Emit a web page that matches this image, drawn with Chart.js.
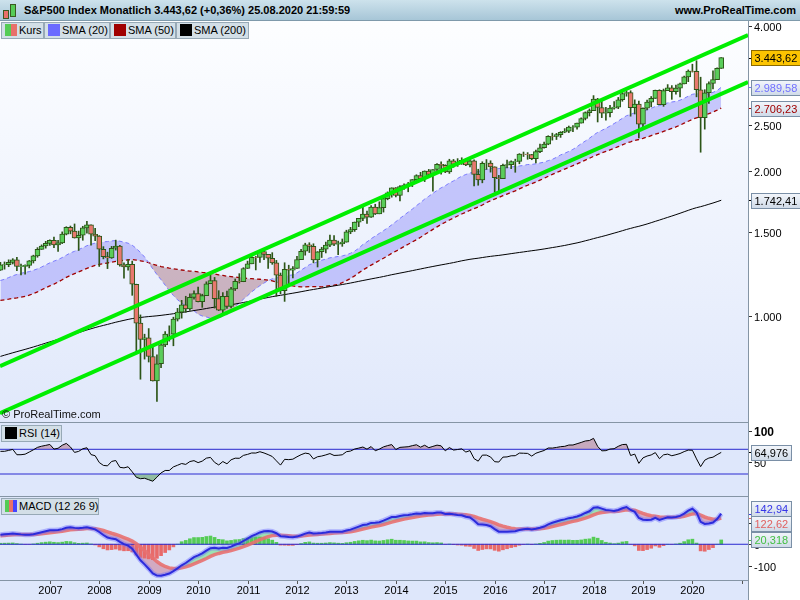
<!DOCTYPE html>
<html>
<head>
<meta charset="utf-8">
<title>S&amp;P500 Index Monatlich</title>
<script src="https://cdn.jsdelivr.net/npm/chart.js@4.4.1/dist/chart.umd.min.js"></script>
<style>
  body { margin: 0; background: #fff; font: 11px "Liberation Sans", Arial, sans-serif; color: #000; }
  #wrap { position: relative; width: 800px; height: 600px; overflow: hidden; }
  #header { position: absolute; left: 0; top: 0; width: 800px; height: 20px; background: linear-gradient(#cde2ec, #a7c6d7); border-bottom: 1px solid #7f9aab; }
  #title { position: absolute; left: 24px; top: 0; line-height: 21px; font-weight: bold; }
  #site { position: absolute; right: 4px; top: 0; line-height: 21px; font-weight: bold; }
  .cdl { position: absolute; width: 4px; border: 1px solid #3a5a20; }
  canvas { position: absolute; left: 0; }
  .box { position: absolute; box-sizing: border-box; height: 17px; line-height: 15px; background: #d3dfe7; border: 1px solid #97a9b6; padding-left: 17px; white-space: nowrap; z-index: 2; }
  .box i { position: absolute; left: 3px; top: 1px; width: 12px; height: 12px; }
  .hline { position: absolute; left: 0; width: 748px; height: 1px; background: #8595a5; z-index: 3; }
  #vline { position: absolute; left: 748px; top: 21px; width: 1px; height: 579px; background: #8595a5; z-index: 3; }
</style>
</head>
<body>
<div id="wrap">
  <div id="header">
    <div class="cdl" style="left:3px;top:10px;height:7px;background:#e8706a"></div>
    <div class="cdl" style="left:10px;top:4px;height:11px;background:#55cc55"></div>
    <div id="title">S&amp;P500 Index Monatlich 3.443,62 (+0,36%) 25.08.2020 21:59:59</div>
    <div id="site">www.ProRealTime.com</div>
  </div>
  <canvas id="main" width="800" height="401" style="top:21px"></canvas>
  <canvas id="rsi" width="800" height="73" style="top:423px"></canvas>
  <canvas id="macd" width="800" height="103" style="top:497px"></canvas>

  <div class="box" style="left:1px;top:22px;width:43px"><i style="background:linear-gradient(to right,#55cc55 50%,#e8706a 50%)"></i>Kurs</div>
  <div class="box" style="left:44px;top:22px;width:66px"><i style="background:#6b6bff"></i>SMA (20)</div>
  <div class="box" style="left:110px;top:22px;width:66px"><i style="background:#a00000"></i>SMA (50)</div>
  <div class="box" style="left:176px;top:22px;width:73px"><i style="background:#000"></i>SMA (200)</div>
  <div class="box" style="left:1px;top:425px;width:61px"><i style="background:#000"></i>RSI (14)</div>
  <div class="box" style="left:1px;top:498px;width:98px"><i style="background:linear-gradient(to right,#55cc55 33%,#e8706a 33% 66%,#4444ff 66%)"></i>MACD (12 26 9)</div>

  <div class="hline" style="top:422px"></div>
  <div class="hline" style="top:496px"></div>
  <div class="hline" style="top:580px"></div>
  <div id="vline"></div>
</div>

<script>
// monthly data, first candle = January 2006
const startYear = 2006;

// month-end closes 1989-2005, only used to warm up the indicators
const history = [
  297.47, 288.86, 294.87, 309.64, 320.52, 317.98, 346.08, 351.45, 349.15, 340.36, 345.99, 353.40,
  329.08, 331.89, 339.94, 330.80, 361.23, 358.02, 356.15, 322.56, 306.05, 304.00, 322.22, 330.22,
  343.93, 367.07, 375.22, 375.35, 389.83, 371.16, 387.81, 395.43, 387.86, 392.46, 375.22, 417.09,
  408.79, 412.70, 403.69, 414.95, 415.35, 408.14, 424.21, 414.03, 417.80, 418.68, 431.35, 435.71,
  438.78, 443.38, 451.67, 440.19, 450.19, 450.53, 448.13, 463.56, 458.93, 467.83, 461.79, 466.45,
  481.61, 467.14, 445.77, 450.91, 456.50, 444.27, 458.26, 475.49, 462.69, 472.35, 453.69, 459.27,
  470.42, 487.39, 500.71, 514.71, 533.40, 544.75, 562.06, 561.88, 584.41, 581.50, 605.37, 615.93,
  636.02, 640.43, 645.50, 654.17, 669.12, 670.63, 639.95, 651.99, 687.31, 705.27, 757.02, 740.74,
  786.16, 790.82, 757.12, 801.34, 848.28, 885.14, 954.29, 899.47, 947.28, 914.62, 955.40, 970.43,
  980.28, 1049.34, 1101.75, 1111.75, 1090.82, 1133.84, 1120.67, 957.28, 1017.01, 1098.67, 1163.63, 1229.23,
  1279.64, 1238.33, 1286.37, 1335.18, 1301.84, 1372.71, 1328.72, 1320.41, 1282.71, 1362.93, 1388.91, 1469.25,
  1394.46, 1366.42, 1498.58, 1452.43, 1420.60, 1454.60, 1430.83, 1517.68, 1436.51, 1429.40, 1314.95, 1320.28,
  1366.01, 1239.94, 1160.33, 1249.46, 1255.82, 1224.42, 1211.23, 1133.58, 1040.94, 1059.78, 1139.45, 1148.08,
  1130.20, 1106.73, 1147.39, 1076.92, 1067.14, 989.82, 911.62, 916.07, 815.28, 885.76, 936.31, 879.82,
  855.70, 841.15, 848.18, 916.92, 963.59, 974.50, 990.31, 1008.01, 995.97, 1050.71, 1058.20, 1111.92,
  1131.13, 1144.94, 1126.21, 1107.30, 1120.68, 1140.84, 1101.72, 1104.24, 1114.58, 1130.20, 1173.82, 1211.92,
  1181.27, 1203.60, 1180.59, 1156.85, 1191.50, 1191.33, 1234.18, 1220.33, 1228.81, 1207.01, 1249.48, 1248.29
];

const close = [
  1280.08, 1280.66, 1294.87, 1310.61, 1270.09, 1270.20, 1276.66, 1303.82, 1335.85, 1377.94, 1400.63, 1418.30,
  1438.24, 1406.82, 1420.86, 1482.37, 1530.62, 1503.35, 1455.27, 1473.99, 1526.75, 1549.38, 1481.14, 1468.36,
  1378.55, 1330.63, 1322.70, 1385.59, 1400.38, 1280.00, 1267.38, 1282.83, 1166.36, 968.75, 896.24, 903.25,
  825.88, 735.09, 797.87, 872.81, 919.14, 919.32, 987.48, 1020.62, 1057.08, 1036.19, 1095.63, 1115.10,
  1073.87, 1104.49, 1169.43, 1186.69, 1089.41, 1030.71, 1101.60, 1049.33, 1141.20, 1183.26, 1180.55, 1257.64,
  1286.12, 1327.22, 1325.83, 1363.61, 1345.20, 1320.64, 1292.28, 1218.89, 1131.42, 1253.30, 1246.96, 1257.60,
  1312.41, 1365.68, 1408.47, 1397.91, 1310.33, 1362.16, 1379.32, 1406.58, 1440.67, 1412.16, 1416.18, 1426.19,
  1498.11, 1514.68, 1569.19, 1597.57, 1630.74, 1606.28, 1685.73, 1632.97, 1681.55, 1756.54, 1805.81, 1848.36,
  1782.59, 1859.45, 1872.34, 1883.95, 1923.57, 1960.23, 1930.67, 2003.37, 1972.29, 2018.05, 2067.56, 2058.90,
  1994.99, 2104.50, 2067.89, 2085.51, 2107.39, 2063.11, 2103.84, 1972.18, 1920.03, 2079.36, 2080.41, 2043.94,
  1940.24, 1932.23, 2059.74, 2065.30, 2096.95, 2098.86, 2173.60, 2170.95, 2168.27, 2126.15, 2198.81, 2238.83,
  2278.87, 2363.64, 2362.72, 2384.20, 2411.80, 2423.41, 2470.30, 2471.65, 2519.36, 2575.26, 2647.58, 2673.61,
  2823.81, 2713.83, 2640.87, 2648.05, 2705.27, 2718.37, 2816.29, 2901.52, 2913.98, 2711.74, 2760.17, 2506.85,
  2704.10, 2784.49, 2834.40, 2945.83, 2752.06, 2941.76, 2980.38, 2926.46, 2976.74, 3037.56, 3140.98, 3230.78,
  3225.52, 2954.22, 2584.59, 2912.43, 3044.31, 3100.29, 3271.12, 3443.62
];

const high = [
  1294.90, 1297.57, 1310.88, 1318.16, 1326.70, 1284.72, 1280.42, 1306.74, 1340.28, 1389.45, 1407.89, 1431.81,
  1441.61, 1461.57, 1438.89, 1498.02, 1535.56, 1540.56, 1555.90, 1503.89, 1538.74, 1576.09, 1545.79, 1523.57,
  1471.77, 1396.02, 1359.68, 1397.84, 1440.24, 1404.05, 1292.17, 1313.15, 1303.04, 1167.03, 1007.51, 918.85,
  943.85, 875.01, 832.98, 888.70, 930.17, 956.23, 996.68, 1039.47, 1080.15, 1101.36, 1113.69, 1130.38,
  1150.45, 1112.42, 1180.16, 1219.80, 1205.13, 1131.23, 1120.95, 1129.24, 1148.90, 1196.14, 1227.08, 1262.60,
  1302.67, 1344.07, 1332.28, 1366.58, 1370.58, 1345.60, 1356.48, 1307.38, 1230.71, 1292.66, 1277.55, 1269.37,
  1333.47, 1378.04, 1419.15, 1422.38, 1415.32, 1363.46, 1391.74, 1426.68, 1474.51, 1470.96, 1434.27, 1448.00,
  1509.94, 1530.94, 1570.28, 1597.57, 1687.18, 1654.19, 1698.78, 1709.67, 1729.86, 1775.22, 1813.55, 1849.44,
  1850.84, 1867.92, 1883.97, 1897.28, 1924.03, 1968.17, 1991.39, 2005.04, 2019.26, 2018.19, 2075.76, 2093.55,
  2064.43, 2119.59, 2117.52, 2125.92, 2134.72, 2129.87, 2132.82, 2112.66, 2020.86, 2094.32, 2116.48, 2104.27,
  2038.20, 1962.96, 2072.21, 2111.05, 2103.48, 2120.55, 2177.09, 2193.81, 2187.87, 2169.60, 2214.10, 2277.53,
  2300.99, 2371.54, 2400.98, 2398.16, 2418.71, 2453.82, 2484.04, 2490.87, 2519.44, 2582.98, 2657.74, 2694.97,
  2872.87, 2835.96, 2801.90, 2717.49, 2742.24, 2791.47, 2848.03, 2916.50, 2940.91, 2939.86, 2815.15, 2800.18,
  2708.95, 2813.49, 2860.31, 2949.52, 2954.13, 2964.15, 3027.98, 3013.59, 3021.99, 3050.10, 3154.26, 3247.93,
  3337.77, 3393.52, 3136.72, 2954.86, 3068.67, 3233.13, 3279.99, 3444.21
];

const low = [
  1245.74, 1253.61, 1268.42, 1285.05, 1245.34, 1219.29, 1224.54, 1261.30, 1290.93, 1327.10, 1377.83, 1385.93,
  1403.97, 1389.42, 1363.98, 1416.37, 1476.70, 1484.18, 1454.25, 1370.60, 1439.29, 1489.56, 1406.10, 1435.65,
  1270.05, 1316.75, 1256.98, 1320.00, 1373.07, 1272.00, 1200.44, 1247.45, 1106.42, 839.80, 741.02, 815.69,
  804.47, 734.52, 666.79, 783.32, 866.10, 888.86, 869.32, 978.51, 991.97, 1019.95, 1029.38, 1085.89,
  1071.59, 1044.50, 1105.24, 1170.69, 1040.78, 1028.33, 1010.91, 1039.70, 1041.11, 1131.87, 1173.00, 1186.60,
  1257.62, 1289.14, 1249.05, 1294.70, 1311.80, 1258.07, 1282.86, 1101.54, 1114.22, 1074.77, 1158.66, 1202.37,
  1258.86, 1312.16, 1340.03, 1357.38, 1291.98, 1266.74, 1325.41, 1354.65, 1396.56, 1403.28, 1343.35, 1398.11,
  1426.19, 1485.01, 1501.48, 1536.03, 1581.28, 1560.33, 1604.57, 1627.47, 1633.41, 1646.47, 1746.20, 1767.99,
  1770.45, 1737.92, 1834.44, 1814.36, 1859.79, 1915.98, 1930.67, 1904.78, 1964.04, 1820.66, 2001.01, 1972.56,
  1988.12, 1980.90, 2039.69, 2048.38, 2067.93, 2056.32, 2044.02, 1867.01, 1871.91, 1893.70, 2019.39, 1993.26,
  1812.29, 1810.10, 1937.09, 2033.80, 2025.91, 1991.68, 2074.02, 2147.58, 2119.12, 2114.72, 2083.79, 2187.44,
  2233.62, 2271.65, 2322.25, 2328.95, 2352.72, 2405.70, 2407.70, 2417.35, 2446.55, 2520.40, 2557.45, 2605.52,
  2682.36, 2532.69, 2585.89, 2553.80, 2594.62, 2691.99, 2698.95, 2796.34, 2864.12, 2603.54, 2631.09, 2346.58,
  2443.96, 2681.83, 2722.27, 2848.63, 2750.52, 2728.81, 2952.22, 2822.12, 2891.85, 2855.94, 3050.72, 3070.33,
  3214.64, 2855.84, 2191.86, 2447.49, 2766.64, 2965.66, 3115.01, 3284.53
];

// axis ticks, levels, trend channel and the last-value boxes
const priceTicks = [1000, 1500, 2000, 2500, 4000];
const rsiTicks = [100, 50];
const macdTicks = [100, 0, -100];
const rsiLevels = [70, 30];
const trendUpper = [[-0.1, 789], [181.5, 3837]];
const trendLower = [[-0.1, 630], [181.5, 3065]];
const lastPrice = [3443.62, 2989.58, 2706.23, 1742.41];
const lastRsi = [64.976];
const lastMacd = [142.94, 122.62, 20.318];

const FONT = '"Liberation Sans", Arial, sans-serif';
Chart.defaults.font.family = FONT;
Chart.defaults.font.size = 11;

// indicators, computed from the closes
const all = history.concat(close);
const off = history.length;

function sma(n) {
  return close.map((_, i) => {
    let s = 0;
    for (let k = 0; k < n; k++) s += all[off + i - k];
    return s / n;
  });
}

function ema(src, n) {
  const a = 2 / (n + 1);
  let e = src[0];
  return src.map((v, i) => (i === 0 ? e : (e = e + a * (v - e))));
}

function rsiCalc(n) {
  let ag = 0, al = 0;
  const out = [50];
  for (let i = 1; i < all.length; i++) {
    const d = all[i] - all[i - 1];
    const g = Math.max(d, 0), l = Math.max(-d, 0);
    if (i <= n) { ag += g / n; al += l / n; }
    else { ag = (ag * (n - 1) + g) / n; al = (al * (n - 1) + l) / n; }
    out.push(al === 0 ? 100 : 100 - 100 / (1 + ag / al));
  }
  return out.slice(off);
}

const sma20 = sma(20), sma50 = sma(50), sma200 = sma(200);
const rsi = rsiCalc(14);
const e12 = ema(all, 12), e26 = ema(all, 26);
const macdAll = all.map((v, i) => e12[i] - e26[i]);
const sigAll = ema(macdAll, 9);
const macd = macdAll.slice(off), signal = sigAll.slice(off);
const hist = macd.map((v, i) => v - signal[i]);

const opens = close.map((c, i) => (i === 0 ? history[history.length - 1] : close[i - 1]));
const pts = arr => arr.map((v, i) => ({ x: i, y: v }));
const flat = v => [{ x: -0.1, y: v }, { x: 181.5, y: v }];

function fmtDe(v, dec) {
  const s = Math.abs(v).toFixed(dec).split('.');
  const int = s[0].replace(/\B(?=(\d{3})+(?!\d))/g, '.');
  return (v < 0 ? '-' : '') + int + (s[1] ? ',' + s[1] : '');
}

// background + right value axis drawn on the chart's own y scale
function panelPlugin(cfg) {
  return {
    id: 'panel',
    beforeDraw(chart) {
      const ctx = chart.ctx, a = chart.chartArea;
      ctx.save();
      ctx.fillStyle = '#fff';
      ctx.fillRect(0, 0, chart.width, chart.height);
      if (cfg.gradient) {
        const g = ctx.createLinearGradient(0, a.top, 0, a.bottom);
        g.addColorStop(0, '#fdfeff');
        g.addColorStop(1, '#e0e8fb');
        ctx.fillStyle = g;
      } else {
        ctx.fillStyle = '#dee7fb';
      }
      ctx.fillRect(0, 0, a.right, chart.height);
      ctx.restore();
    },
    afterDraw(chart) {
      const ctx = chart.ctx, a = chart.chartArea, y = chart.scales.y;
      ctx.save();
      ctx.textBaseline = 'middle';
      ctx.lineWidth = 1;
      cfg.ticks.forEach(t => {
        const py = Math.round(y.getPixelForValue(t.v)) + 0.5;
        ctx.strokeStyle = '#333';
        ctx.beginPath(); ctx.moveTo(a.right, py); ctx.lineTo(a.right + 4, py); ctx.stroke();
        ctx.fillStyle = '#000';
        ctx.font = (t.bold ? 'bold 12px ' : '11px ') + FONT;
        ctx.fillText(t.text, a.right + 6, py + 1);
      });
      ctx.font = '11px ' + FONT;
      const items = cfg.boxes.map(b => Object.assign({}, b, { py: y.getPixelForValue(b.v) }));
      items.forEach(b => { b.cy = b.py; });
      items.sort((p, q) => p.py - q.py);
      for (let it = 0; it < 10; it++) {
        for (let k = 1; k < items.length; k++) {
          const gap = items[k].cy - items[k - 1].cy;
          if (gap < 15) { const d = (15 - gap) / 2; items[k].cy += d; items[k - 1].cy -= d; }
        }
      }
      items.forEach(b => {
        const py = Math.round(b.py) + 0.5;
        ctx.strokeStyle = b.tick || b.color;
        ctx.beginPath(); ctx.moveTo(a.right, py); ctx.lineTo(a.right + 4, py); ctx.stroke();
        const w = Math.round(ctx.measureText(b.text).width) + 6;
        const x0 = a.right + 3.5, y0 = Math.round(b.cy - 7.5) + 0.5;
        if (b.bg) {
          ctx.fillStyle = b.bg;
        } else {
          const g = ctx.createLinearGradient(0, y0, 0, y0 + 15);
          g.addColorStop(0, '#f3f6fb');
          g.addColorStop(1, '#cfdae8');
          ctx.fillStyle = g;
        }
        ctx.fillRect(x0, y0, w, 15);
        ctx.strokeStyle = b.bg ? '#8a6a00' : '#7a8fa6';
        ctx.strokeRect(x0, y0, w, 15);
        ctx.fillStyle = b.color;
        ctx.fillText(b.text, x0 + 3, y0 + 8);
      });
      if (cfg.after) cfg.after(chart, ctx);
      ctx.restore();
    }
  };
}

const xScale = { type: 'linear', min: -0.1, max: 181.5, offset: false, display: false };
const common = {
  responsive: false,
  animation: false,
  events: [],
  plugins: { legend: { display: false }, tooltip: { enabled: false }, filler: { drawTime: 'beforeDatasetsDraw' } },
  elements: { point: { radius: 0 }, line: { tension: 0 } }
};

// price panel
new Chart(document.getElementById('main'), {
  type: 'bar',
  data: {
    datasets: [
      { type: 'line', data: trendUpper.map(p => ({ x: p[0], y: p[1] })), borderColor: '#00ee00', borderWidth: 4, order: 0 },
      { type: 'line', data: trendLower.map(p => ({ x: p[0], y: p[1] })), borderColor: '#00ee00', borderWidth: 4, order: 0 },
      {
        type: 'bar',
        data: close.map((c, i) => ({ x: i, y: [Math.min(opens[i], c), Math.max(opens[i], c)] })),
        backgroundColor: close.map((c, i) => (c >= opens[i] ? '#5acd5a' : '#e8786e')),
        borderColor: '#2c5517', borderWidth: 1, borderSkipped: false,
        barThickness: 5, grouped: false, order: 1
      },
      {
        type: 'bar',
        data: close.map((c, i) => ({ x: i, y: [Math.min(low[i], opens[i], c), Math.max(high[i], opens[i], c)] })),
        backgroundColor: '#2c5517', borderWidth: 0,
        barThickness: 1, grouped: false, order: 2
      },
      { type: 'line', data: pts(sma200), borderColor: '#000', borderWidth: 1, order: 3 },
      {
        type: 'line', data: pts(sma20), borderColor: '#7b7bff', borderWidth: 1, borderDash: [4, 3], order: 4,
        fill: { target: '+1', above: 'rgba(165,165,250,0.6)', below: 'rgba(165,105,120,0.45)' }
      },
      { type: 'line', data: pts(sma50), borderColor: '#a00000', borderWidth: 1.3, borderDash: [4, 3], order: 5 }
    ]
  },
  options: Object.assign({}, common, {
    layout: { padding: { right: 52 } },
    scales: { x: xScale, y: { type: 'logarithmic', min: 604, max: 4103, display: false } }
  }),
  plugins: [panelPlugin({
    gradient: true,
    ticks: priceTicks.map(v => ({ v: v, text: fmtDe(v, 0) })),
    boxes: [
      { v: lastPrice[0], text: fmtDe(lastPrice[0], 2), color: '#000', bg: '#fcc400', tick: '#000' },
      { v: lastPrice[1], text: fmtDe(lastPrice[1], 2), color: '#7070ff' },
      { v: lastPrice[2], text: fmtDe(lastPrice[2], 2), color: '#a00000' },
      { v: lastPrice[3], text: fmtDe(lastPrice[3], 2), color: '#000' }
    ],
    after(chart, ctx) {
      ctx.fillStyle = '#111';
      ctx.font = '11px ' + FONT;
      ctx.fillText('\u00a9 ProRealTime.com', 2, chart.chartArea.bottom - 7);
    }
  })]
});

// RSI panel
new Chart(document.getElementById('rsi'), {
  type: 'line',
  data: {
    datasets: [
      { data: flat(rsiLevels[0]), borderColor: '#2a2ad0', borderWidth: 1, order: 3 },
      { data: flat(rsiLevels[1]), borderColor: '#2a2ad0', borderWidth: 1, order: 3 },
      { data: pts(rsi), borderWidth: 0, borderColor: 'transparent', order: 4,
        fill: { target: { value: rsiLevels[0] }, above: 'rgba(190,150,170,0.75)', below: 'transparent' } },
      { data: pts(rsi), borderWidth: 0, borderColor: 'transparent', order: 4,
        fill: { target: { value: rsiLevels[1] }, above: 'transparent', below: 'rgba(120,175,130,0.75)' } },
      { data: pts(rsi), borderColor: '#000', borderWidth: 1, order: 1 }
    ]
  },
  options: Object.assign({}, common, {
    layout: { padding: { right: 52 } },
    scales: { x: xScale, y: { type: 'linear', min: -5.6, max: 112.6, display: false } }
  }),
  plugins: [panelPlugin({
    ticks: rsiTicks.map(v => ({ v: v, text: String(v), bold: v === 100 })),
    boxes: [{ v: lastRsi[0], text: fmtDe(lastRsi[0], 3), color: '#000', tick: '#000' }]
  })]
});

// MACD panel with the time axis below it
new Chart(document.getElementById('macd'), {
  type: 'bar',
  data: {
    datasets: [
      { type: 'bar', data: pts(hist), backgroundColor: hist.map(v => (v >= 0 ? '#55cc55' : '#e86a6a')),
        barThickness: 3, grouped: false, order: 6 },
      { type: 'line', data: flat(0), borderColor: '#2a2ad0', borderWidth: 1, order: 5 },
      { type: 'line', data: pts(signal), borderColor: 'rgba(232,112,112,0.9)', borderWidth: 3.5, order: 3 },
      { type: 'line', data: pts(macd), borderColor: 'rgba(110,110,255,0.45)', borderWidth: 5, order: 2 },
      { type: 'line', data: pts(macd), borderColor: '#2b2bdc', borderWidth: 2, order: 1,
        fill: { target: 2, above: 'rgba(140,225,160,0.8)', below: 'rgba(205,150,175,0.75)' } }
    ]
  },
  options: Object.assign({}, common, {
    layout: { padding: { right: 52, bottom: 20 } },
    scales: { x: xScale, y: { type: 'linear', min: -167, max: 221, display: false } }
  }),
  plugins: [panelPlugin({
    ticks: macdTicks.map(v => ({ v: v, text: String(v) })),
    boxes: [
      { v: lastMacd[0], text: fmtDe(lastMacd[0], 2), color: '#3535e8' },
      { v: lastMacd[1], text: fmtDe(lastMacd[1], 2), color: '#e06060' },
      { v: lastMacd[2], text: fmtDe(lastMacd[2], 3), color: '#44c044' }
    ],
    after(chart, ctx) {
      const a = chart.chartArea, x = chart.scales.x;
      ctx.font = '11px ' + FONT;
      ctx.textAlign = 'center';
      ctx.strokeStyle = '#555';
      for (let m = 12; m <= 180; m += 12) {
        const px = Math.round(x.getPixelForValue(m)) + 0.5;
        ctx.beginPath(); ctx.moveTo(px, a.bottom); ctx.lineTo(px, a.bottom + 4); ctx.stroke();
        if (m <= 168) {
          ctx.fillStyle = '#000';
          ctx.fillText(String(startYear + m / 12), px, a.bottom + 11);
        }
      }
    }
  })]
});
</script>
</body>
</html>
